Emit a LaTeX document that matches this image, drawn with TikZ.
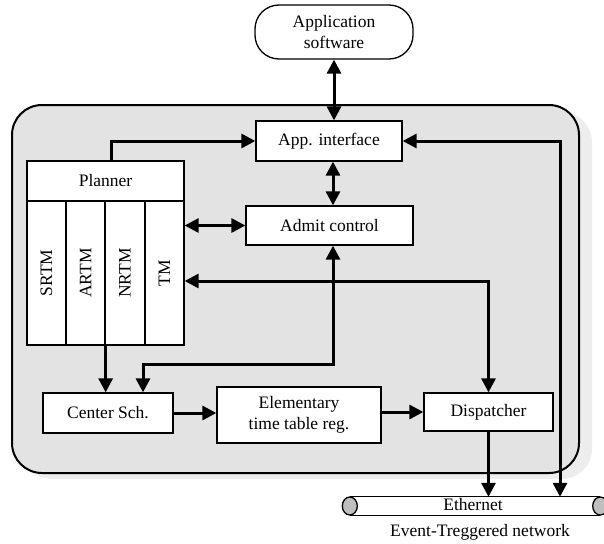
\documentclass[tikz,border=0pt]{standalone}
\usepackage{fontspec}
\setmainfont{Liberation Serif}
\usetikzlibrary{arrows.meta,calc}

\tikzset{
  box/.style={draw=black, line width=1.3pt, fill=white, inner sep=0pt, align=center},
  tip/.tip={Triangle[length=14pt,width=14pt]},
  link/.style={line width=3pt, -tip},
  dlink/.style={line width=3pt, tip-tip},
  pipeend/.style={draw=black, line width=1.3pt, fill=black!25},
}

\begin{document}
\begin{tikzpicture}[x=1pt, y=-1pt, font=\fontsize{17.5}{21.5}\selectfont]
\useasboundingbox (0,0) rectangle (604,543);

% system enclosure with its soft shadow
\fill[black!7, rounded corners=30pt] (22,112) rectangle (592,479);
\draw[line width=2pt, fill=black!11, rounded corners=30pt] (12,105) rectangle (579,473);

% application layer
\node[box, minimum width=158pt, minimum height=54pt, rounded corners=24pt]
  (appsw) at (334,32) {Application\\software};

\node[box, minimum width=146pt, minimum height=40pt] (appif) at (329,141) {App. interface};
\node[box, minimum width=167pt, minimum height=39pt] (admit) at (329.5,225.5) {Admit control};

% planner with its four managers
\node[box, minimum width=157pt, minimum height=40pt] (plan) at (105.5,181) {Planner};
\node[box, minimum width=39pt, minimum height=144pt] (srtm) at (46.5,273) {};
\node[box, minimum width=39pt, minimum height=144pt] (artm) at (85.5,273) {};
\node[box, minimum width=40pt, minimum height=144pt] (nrtm) at (125,273) {};
\node[box, minimum width=39pt, minimum height=144pt] (tm) at (164.5,273) {};
\node[rotate=90] (srtmlbl) at (srtm) {SRTM};
\node[rotate=90] (artmlbl) at (artm) {ARTM};
\node[rotate=90] (nrtmlbl) at (nrtm) {NRTM};
\node[rotate=90] (tmlbl) at (tm) {TM};

% scheduling chain
\node[box, minimum width=130pt, minimum height=40pt] (center) at (108,413) {Center Sch.};
\node[box, minimum width=164pt, minimum height=56pt] (elem) at (299,415) {Elementary\\time table reg.};
\node[box, minimum width=129pt, minimum height=38pt] (disp) at (488.5,412) {Dispatcher};

% network pipe
\node[fill=white, minimum width=250pt, minimum height=18pt, inner sep=0pt] (eth) at (475,506) {};
\draw[line width=1.3pt] (eth.north west) -- (eth.north east) (eth.south west) -- (eth.south east);
\draw[pipeend] (eth.west) ellipse [x radius=7.5pt, y radius=9pt];
\draw[pipeend] (eth.east) ellipse [x radius=7.5pt, y radius=9pt];
\node[inner sep=0pt] (ethlbl) at (473,505) {Ethernet};
\node (netlbl) at (480,532) {Event-Treggered network};

% routing helpers
\coordinate (col) at (333,0);
\coordinate (rline) at (560,0);
\coordinate (bend) at (143,364);

% connectors
\draw[dlink] (appsw.south) -- (appsw.south |- appif.north);
\draw[dlink] (appif.south -| col) -- (admit.north -| col);
\draw[link] ($(plan.north)+(5.5,0)$) |- (appif.west);
\draw[dlink] (tm.east |- admit.west) -- (admit.west);
\draw[dlink] ($(tm.east)+(0,8)$) -| (disp.north);
\draw[dlink] (admit.south -| col) |- (bend) -- (bend |- center.north);
\draw[link] (artm.south east) -- (artm.south east |- center.north);
\draw[link] (center.east) -- (center.east -| elem.west);
\draw[link] (elem.east |- disp.west) -- (disp.west);
\draw[link] (disp.south) -- (disp.south |- eth.north);
\draw[dlink] (appif.east) -| (rline |- eth.north);
\end{tikzpicture}
\end{document}
